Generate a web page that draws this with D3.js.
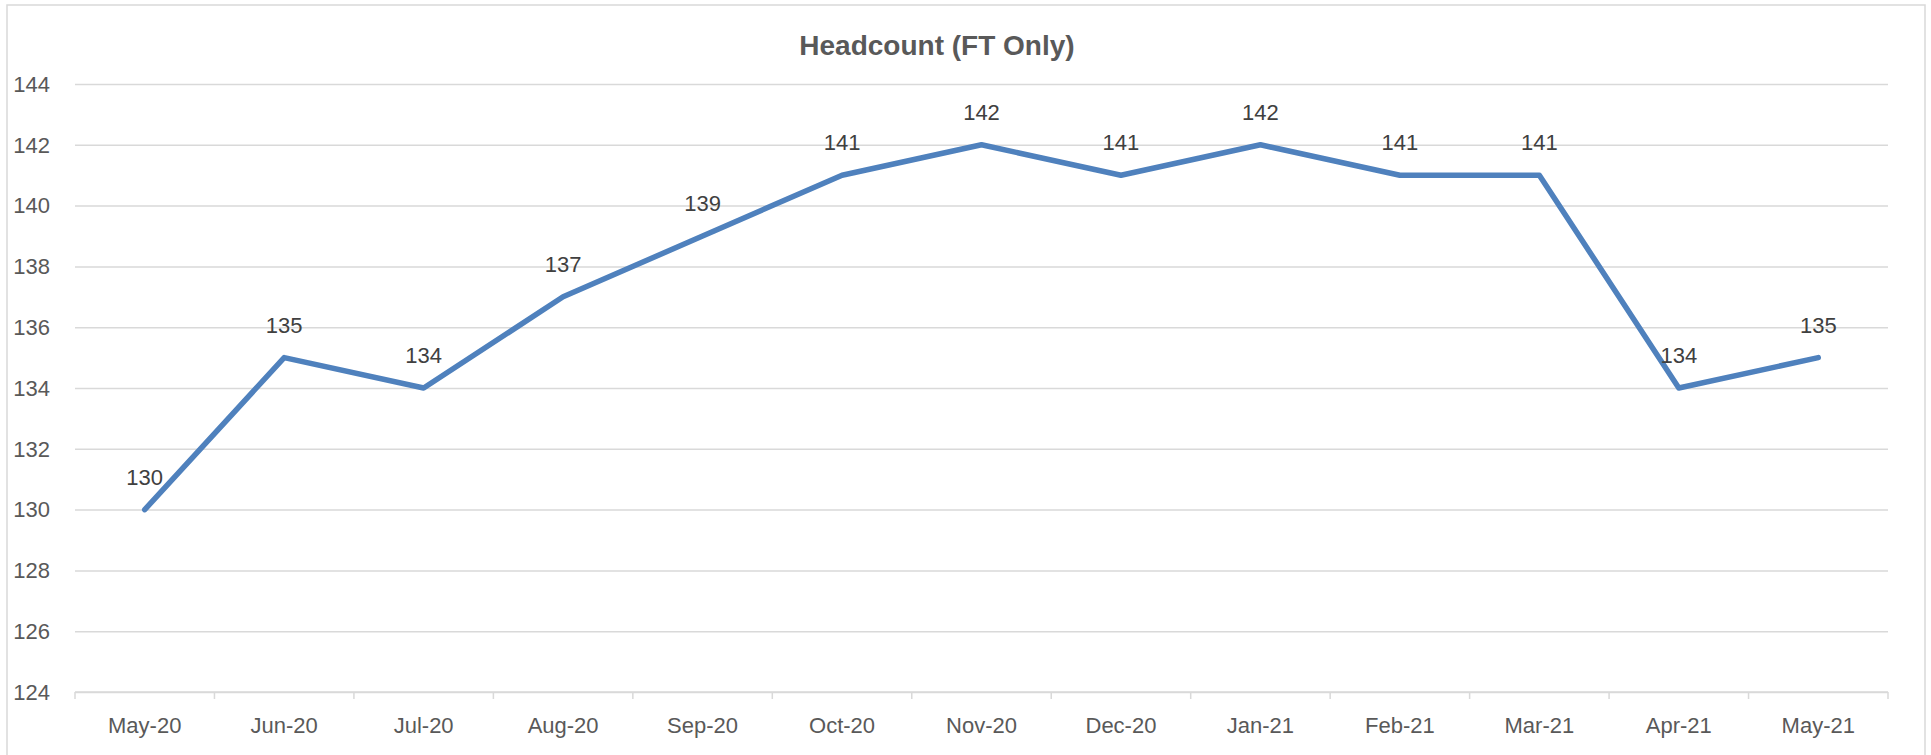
<!DOCTYPE html>
<html>
<head>
<meta charset="utf-8">
<script src="https://cdn.jsdelivr.net/npm/d3@7"></script>
<style>
  body { margin: 0; background: #fff; }
  svg { display: block; font-family: "Liberation Sans", Arial, sans-serif; }
</style>
</head>
<body>
<svg id="canvas" width="1931" height="755"></svg>
<script>
// data
const months = ['May-20','Jun-20','Jul-20','Aug-20','Sep-20','Oct-20','Nov-20',
                'Dec-20','Jan-21','Feb-21','Mar-21','Apr-21','May-21'];
const headcount = [130, 135, 134, 137, 139, 141, 142, 141, 142, 141, 141, 134, 135];
const yTicks = [124, 126, 128, 130, 132, 134, 136, 138, 140, 142, 144];

// margins & dimensions
const W = 1931, H = 755;
const margin = { top: 84, right: 43, bottom: 63, left: 75 };
const width = W - margin.left - margin.right;
const height = H - margin.top - margin.bottom;

const root = d3.select('#canvas');

// outer chart border
root.append('rect')
  .attr('x', 7).attr('y', 5)
  .attr('width', 1918).attr('height', 760)
  .attr('fill', '#fff')
  .attr('stroke', '#d9d9d9')
  .attr('stroke-width', 1.5);

// title
root.append('text')
  .attr('x', 937).attr('y', 55)
  .attr('text-anchor', 'middle')
  .attr('font-size', 28)
  .attr('font-weight', 'bold')
  .attr('fill', '#595959')
  .text('Headcount (FT Only)');

const svg = root.append('g')
  .attr('transform', `translate(${margin.left},${margin.top})`);

// scales
const xScale = d3.scaleBand().domain(months).range([0, width]).padding(0);
const yScale = d3.scaleLinear().domain([124, 144]).range([height, 0]);
const xMid = m => xScale(m) + xScale.bandwidth() / 2;

// gridlines
svg.append('g')
  .attr('class', 'grid')
  .call(d3.axisLeft(yScale).tickValues(yTicks).tickSize(-width).tickFormat(''))
  .call(g => g.select('.domain').remove())
  .call(g => g.selectAll('line').attr('stroke', '#d9d9d9').attr('stroke-width', 1.5));

// y labels
svg.append('g')
  .selectAll('text')
  .data(yTicks)
  .join('text')
    .attr('x', -25)
    .attr('y', d => yScale(d))
    .attr('dy', '0.35em')
    .attr('text-anchor', 'end')
    .attr('font-size', 22)
    .attr('fill', '#595959')
    .text(d => d);

// x axis: tick marks on category boundaries
const bounds = months.map(m => xScale(m)).concat([width]);
const xAxis = svg.append('g').attr('transform', `translate(0,${height})`);
xAxis.append('line')
  .attr('x1', 0).attr('x2', width)
  .attr('stroke', '#d9d9d9').attr('stroke-width', 1.5);
xAxis.selectAll('.tick-mark')
  .data(bounds)
  .join('line')
    .attr('class', 'tick-mark')
    .attr('x1', d => d).attr('x2', d => d)
    .attr('y1', 0).attr('y2', 7)
    .attr('stroke', '#d9d9d9').attr('stroke-width', 1.5);
xAxis.selectAll('.tick-label')
  .data(months)
  .join('text')
    .attr('class', 'tick-label')
    .attr('x', d => xMid(d))
    .attr('y', 41)
    .attr('text-anchor', 'middle')
    .attr('font-size', 22)
    .attr('fill', '#595959')
    .text(d => d);

// line
const series = months.map((m, i) => ({ month: m, value: headcount[i] }));
const lineGen = d3.line()
  .x(d => xMid(d.month))
  .y(d => yScale(d.value));

svg.append('path')
  .datum(series)
  .attr('d', lineGen)
  .attr('fill', 'none')
  .attr('stroke', '#4f81bd')
  .attr('stroke-width', 5.5)
  .attr('stroke-linejoin', 'round')
  .attr('stroke-linecap', 'round');

// data labels
svg.append('g')
  .selectAll('text')
  .data(series)
  .join('text')
    .attr('x', d => xMid(d.month))
    .attr('y', d => yScale(d.value) - 25)
    .attr('text-anchor', 'middle')
    .attr('font-size', 22)
    .attr('fill', '#404040')
    .text(d => d.value);
</script>
</body>
</html>
